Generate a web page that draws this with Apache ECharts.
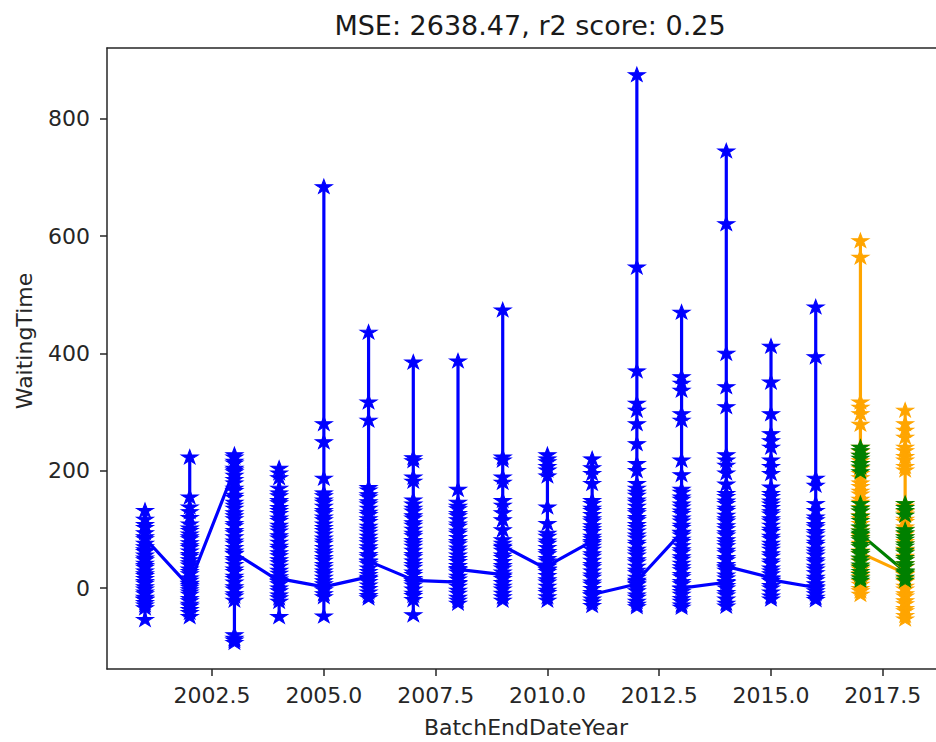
<!DOCTYPE html>
<html>
<head>
<meta charset="utf-8">
<script src="https://cdn.jsdelivr.net/npm/echarts@6/dist/echarts.min.js"></script>
<style>
  html, body { margin: 0; padding: 0; background: #ffffff; overflow: hidden; }
  #chart { width: 936px; height: 742px; }
</style>
</head>
<body>
<div id="chart"></div>
<script>
// ---- data ---------------------------------------------------------------
const chartTitle = 'MSE: 2638.47, r2 score: 0.25';
const xAxisName = 'BatchEndDateYear';
const yAxisName = 'WaitingTime';

const xTicks = [2002.5, 2005.0, 2007.5, 2010.0, 2012.5, 2015.0, 2017.5];
const yTicks = [0, 200, 400, 600, 800];

// training period: one list of waiting times per year, in recorded order
const trainYears = [2001, 2002, 2003, 2004, 2005, 2006, 2007, 2008,
                    2009, 2010, 2011, 2012, 2013, 2014, 2015, 2016];
const train2001 = [-18, 133, 118, 109, 104, 95, 88, 77, 71, 66, 63, 57, 52, 49, 43, 39, 36, 30, 25, 22, 17, 12, 9, 3, -1, -6, -9, -15, -19, -24, -28, -33, -53, 85];
const train2002 = [2, 224, 156, 139, 131, 121, 110, 103, 99, 93, 88, 85, 78, 73, 70, 64, 58, 55, 49, 44, 40, 33, 29, 25, 18, 14, 9, 5, -2, -6, -10, -17, -21, -27, -30, -36, -41, -48, 8];
const train2003 = [202, 228, 224, 217, 214, 205, 199, 193, 186, 180, 171, 167, 159, 155, 147, 142, 137, 129, 124, 119, 111, 107, 99, 95, 88, 81, 77, 70, 64, 59, 51, 47, 41, 33, 29, 21, 17, 11, 3, -1, -9, -13, -20, -79, -85, -88, -92, 60];
const train2004 = [12, 205, 197, 189, 171, 163, 158, 150, 146, 138, 133, 128, 120, 116, 108, 103, 98, 90, 86, 79, 72, 68, 61, 56, 49, 44, 38, 31, 26, 20, 13, 8, 1, -4, -11, -16, -22, -48, 16];
const train2005 = [2, 685, 281, 250, 188, 163, 158, 151, 147, 140, 133, 129, 122, 117, 110, 104, 99, 93, 86, 81, 77, 70, 64, 59, 53, 48, 41, 36, 30, 25, 19, 13, 8, 3, -2, -9, -14, -47, 2];
const train2006 = [19, 437, 318, 287, 172, 168, 160, 156, 148, 144, 137, 130, 126, 119, 114, 106, 101, 96, 89, 83, 78, 71, 66, 58, 54, 47, 42, 35, 29, 24, 17, 12, 6, 0, -6, -12, -16, 46];
const train2007 = [14, 386, 223, 218, 190, 183, 151, 144, 137, 132, 124, 120, 112, 108, 101, 94, 90, 82, 77, 72, 65, 58, 54, 47, 41, 36, 28, 24, 17, 10, 6, -1, -8, -12, -19, -45, 13];
const train2008 = [10, 388, 169, 147, 140, 136, 128, 124, 117, 110, 106, 98, 94, 87, 80, 76, 69, 64, 57, 51, 46, 39, 34, 28, 21, 16, 9, 4, -3, -8, -15, -20, -25, 32];
const train2009 = [23, 475, 224, 219, 190, 181, 150, 142, 129, 117, 100, 83, 77, 70, 65, 57, 53, 46, 39, 35, 28, 21, 17, 10, 4, -1, -8, -14, -20, 72];
const train2010 = [32, 228, 221, 216, 208, 202, 192, 139, 111, 94, 89, 81, 77, 70, 63, 59, 51, 47, 40, 33, 29, 22, 15, 11, 4, -3, -7, -14, -20, 38];
const train2011 = [80, 221, 206, 196, 179, 150, 145, 137, 133, 126, 119, 115, 107, 102, 97, 89, 85, 77, 72, 67, 59, 55, 48, 41, 37, 30, 23, 19, 11, 7, 0, -7, -11, -18, -23, -29, -11];
const train2012 = [7, 876, 548, 371, 316, 304, 281, 247, 213, 201, 179, 171, 164, 159, 151, 147, 140, 133, 129, 121, 117, 109, 104, 98, 91, 86, 79, 75, 67, 62, 57, 49, 45, 38, 31, 27, 19, 14, 9, 1, -4, -11, -15, -22, -27, -31, 12];
const train2013 = [95, 471, 361, 350, 338, 298, 287, 219, 194, 169, 164, 156, 152, 144, 139, 132, 128, 120, 115, 108, 104, 96, 91, 84, 80, 73, 66, 62, 54, 50, 43, 37, 32, 24, 20, 12, 8, 1, -5, -10, -17, -22, -28, -32, 0];
const train2014 = [10, 746, 622, 401, 344, 310, 228, 219, 210, 197, 178, 162, 157, 149, 145, 137, 133, 125, 119, 115, 107, 102, 95, 91, 83, 78, 73, 65, 61, 53, 49, 41, 35, 31, 23, 18, 12, 5, 1, -7, -11, -18, -25, -30, 37];
const train2015 = [18, 413, 352, 298, 264, 252, 241, 219, 208, 196, 173, 162, 157, 149, 144, 138, 131, 127, 119, 115, 108, 101, 97, 89, 85, 77, 72, 67, 59, 55, 47, 43, 35, 30, 25, 17, 13, 5, 1, -6, -13, -18, 14];
const train2016 = [1, 480, 395, 188, 176, 145, 133, 122, 117, 109, 105, 97, 93, 86, 79, 75, 67, 62, 57, 49, 45, 38, 33, 27, 19, 15, 8, 3, -4, -9, -15, -19];
const trainWaiting = [train2001, train2002, train2003, train2004, train2005, train2006, train2007, train2008,
                      train2009, train2010, train2011, train2012, train2013, train2014, train2015, train2016];

// test period: actual and predicted waiting times
const testYears = [2017, 2018];
const actual2017 = [593, 565, 318, 309, 298, 280, 241, 234, 227, 218, 213, 205, 196, 189, 180, 174, 166, 161, 152, 147, 138, 132, 124, 119, 111, 104, 98, 90, 86, 77, 72, 64, 59, 51, 46, 38, 33, 25, 20, 12, 7, 0, -4, -10, 60];
const actual2018 = [25, 304, 281, 270, 258, 241, 235, 225, 219, 208, 202, 145, 140, 131, 127, 118, 114, 105, 101, 93, 88, 80, 76, 67, 63, 55, 50, 42, 37, 29, 24, 17, 12, 4, -1, -9, -13, -21, -26, -34, -38, -46, -52];
const predicted2017 = [241, 235, 227, 222, 213, 207, 199, 145, 137, 132, 123, 116, 105, 98, 94, 87, 83, 75, 71, 63, 59, 52, 47, 40, 36, 29, 24, 18, 14, 92];
const predicted2018 = [28, 145, 138, 133, 125, 100, 95, 88, 84, 76, 72, 65, 61, 53, 49, 42, 38, 30, 26, 19, 14];
const testActual = [actual2017, actual2018];
const testPredicted = [predicted2017, predicted2018];

// ---- chart --------------------------------------------------------------
const FONT = 'DejaVu Sans';
const TEXT = '#262626';
const AXIS = '#262626';
const STAR = 'path://M100 0L122.45 69.1L195.1 69.1L136.3 111.8L158.8 180.9L100 138.2L41.2 180.9L63.7 111.8L4.9 69.1L77.55 69.1Z';

// visible year range; the frame stays open on the right where the view ends
const X_MIN = 2000.15;
const X_MAX = 2018.69;

function toPoints(years, groups) {
  const pts = [];
  years.forEach((yr, i) => groups[i].forEach(v => pts.push([yr, v])));
  return pts;
}

function starLine(name, color, data) {
  return {
    name: name,
    type: 'line',
    data: data,
    symbol: STAR,
    symbolSize: [17, 14],
    showSymbol: true,
    showAllSymbol: true,
    itemStyle: { color: color, borderColor: color, borderWidth: 1 },
    lineStyle: { color: color, width: 3.2 },
    emphasis: { disabled: true },
    silent: true
  };
}

const spine = { show: true, onZero: false, lineStyle: { color: AXIS, width: 1.5 } };

const chart = echarts.init(document.getElementById('chart'), null, { renderer: 'svg' });

chart.setOption({
  animation: false,
  backgroundColor: '#ffffff',
  title: {
    text: chartTitle,
    left: 525,
    top: 7,
    textAlign: 'center',
    textStyle: { fontFamily: FONT, fontSize: 27, fontWeight: 'normal', color: '#1a1a1a' }
  },
  grid: {
    left: 107,
    top: 48,
    right: 0,
    bottom: 73,
    outerBoundsMode: 'none',
    containLabel: false,
    show: false
  },
  xAxis: [{
    type: 'value',
    position: 'bottom',
    min: X_MIN,
    max: X_MAX,
    axisLine: spine,
    splitLine: { show: false },
    axisTick: { show: true, inside: false, customValues: xTicks, length: 7, lineStyle: { color: AXIS, width: 1.5 } },
    axisLabel: {
      customValues: xTicks,
      formatter: v => v.toFixed(1),
      fontFamily: FONT, fontSize: 22, color: TEXT, margin: 15
    }
  }, {
    // top spine of the frame
    type: 'value',
    position: 'top',
    min: X_MIN,
    max: X_MAX,
    axisLine: spine,
    splitLine: { show: false },
    axisTick: { show: false },
    axisLabel: { show: false }
  }],
  yAxis: {
    type: 'value',
    min: -138,
    max: 921,
    axisLine: spine,
    splitLine: { show: false },
    axisTick: { show: true, inside: false, customValues: yTicks, length: 7, lineStyle: { color: AXIS, width: 1.5 } },
    axisLabel: {
      customValues: yTicks,
      fontFamily: FONT, fontSize: 22, color: TEXT, margin: 17
    }
  },
  graphic: [{
    type: 'text',
    x: 24,
    y: 341,
    rotation: Math.PI / 2,
    style: {
      text: yAxisName,
      fontFamily: FONT, fontSize: 22, fill: TEXT,
      align: 'center', verticalAlign: 'middle'
    }
  }, {
    type: 'text',
    x: 526,
    y: 727,
    style: {
      text: xAxisName,
      fontFamily: FONT, fontSize: 22, fill: TEXT,
      align: 'center', verticalAlign: 'middle'
    }
  }],
  series: [
    starLine('train', '#0000ff', toPoints(trainYears, trainWaiting)),
    starLine('actual', '#ffa500', toPoints(testYears, testActual)),
    starLine('predicted', '#008000', toPoints(testYears, testPredicted))
  ]
});
</script>
</body>
</html>
